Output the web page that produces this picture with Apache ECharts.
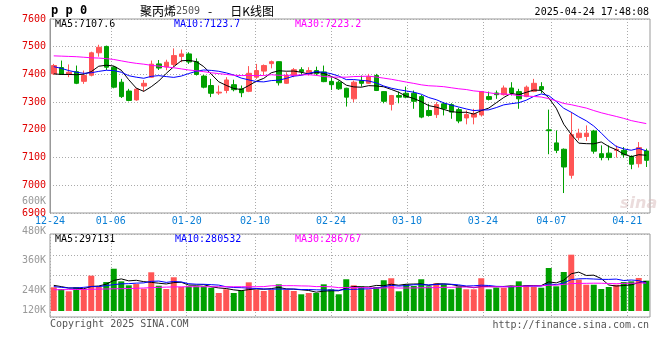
<!DOCTYPE html>
<html><head><meta charset="utf-8">
<script src="https://cdn.jsdelivr.net/npm/echarts@6/dist/echarts.min.js"></script>
<style>html,body{margin:0;padding:0;background:#fff}#c{width:660px;height:360px}</style>
</head><body><div id="c"></div>
<script>
// ---- data ----
const dates = ['12-24','12-25','12-26','12-27','12-30','12-31',
'01-02','01-03','01-06','01-07','01-08','01-09','01-10','01-13','01-14','01-15','01-16','01-17','01-20','01-21','01-22','01-23','01-24','01-27',
'02-05','02-06','02-07','02-10','02-11','02-12','02-13','02-14','02-17','02-18','02-19','02-20','02-21','02-24','02-25','02-26','02-27','02-28',
'03-03','03-04','03-05','03-06','03-07','03-10','03-11','03-12','03-13','03-14','03-17','03-18','03-19','03-20','03-21','03-24','03-25','03-26','03-27','03-28','03-31',
'04-01','04-02','04-03','04-07','04-08','04-09','04-10','04-11','04-14','04-15','04-16','04-17','04-18','04-21','04-22','04-23','04-24'];
const opens = [7402,7425,7400,7410,7375,7397,7478,7501,7426,7372,7340,7308,7358,7390,7438,7427,7436,7465,7474,7446,
7394,7360,7333,7342,7363,7348,7339,7390,7412,7439,7446,7368,7397,7417,7406,7414,7409,7375,7372,7350,
7312,7378,7368,7396,7338,7292,7324,7332,7332,7320,7270,7255,7294,7291,7273,7243,7246,7254,7320,7333,
7327,7351,7338,7320,7339,7356,7200,7153,7130,7036,7172,7176,7196,7114,7116,7126,7126,7104,7078,7124];
const closes = [7432,7400,7408,7368,7396,7478,7498,7426,7354,7320,7306,7347,7368,7437,7423,7444,7468,7474,7445,7400,
7354,7332,7336,7380,7345,7334,7404,7414,7432,7446,7370,7396,7417,7410,7414,7403,7374,7363,7348,7318,
7372,7368,7392,7342,7303,7324,7318,7318,7303,7246,7252,7291,7276,7264,7232,7255,7258,7338,7310,7327,
7351,7333,7312,7354,7368,7345,7197,7126,7066,7183,7188,7188,7123,7100,7100,7130,7110,7076,7136,7090];
const lows = [7398,7398,7390,7365,7366,7393,7464,7416,7350,7315,7303,7305,7338,7388,7416,7415,7428,7444,7438,7396,
7350,7318,7326,7332,7339,7318,7336,7384,7397,7422,7360,7366,7390,7398,7396,7396,7372,7344,7344,7284,
7300,7356,7366,7340,7296,7270,7296,7314,7276,7242,7248,7243,7252,7240,7224,7220,7220,7248,7306,7312,
7324,7324,7276,7318,7336,7332,7112,7116,6972,7024,7162,7160,7114,7090,7090,7100,7100,7058,7064,7066];
const highs = [7438,7450,7436,7432,7414,7482,7507,7504,7430,7384,7348,7350,7380,7450,7452,7453,7494,7490,7480,7458,
7398,7384,7360,7390,7381,7360,7430,7438,7436,7450,7447,7408,7423,7426,7426,7428,7432,7390,7378,7352,
7378,7396,7402,7402,7340,7326,7338,7356,7342,7326,7294,7300,7300,7296,7280,7270,7276,7340,7338,7342,
7360,7372,7348,7360,7384,7372,7273,7198,7133,7264,7204,7216,7200,7144,7144,7144,7138,7108,7156,7132];
const volumes = [238000,221000,198000,238000,221000,355000,244000,291000,425000,298000,258000,271000,224000,389000,254000,221000,339000,241000,248000,248000,
248000,234000,181000,218000,181000,208000,288000,214000,201000,214000,268000,214000,201000,168000,181000,181000,268000,218000,168000,319000,
258000,248000,218000,241000,309000,329000,198000,268000,251000,319000,248000,278000,268000,218000,248000,218000,218000,329000,218000,234000,
234000,248000,298000,258000,241000,234000,432000,248000,392000,566000,315000,264000,264000,221000,241000,264000,291000,298000,332000,305000];
// moving-average values before enough history exists
const ma5Head = [7402,7400,7400,7399];
const ma10Head = [7428,7422,7414,7408,7404,7406,7411,7415,7414];
const ma30Head = [7467,7466,7465,7464,7462,7460,7459,7457,7454,7449,7444,7440,7437,7433,7430,7427,7424,7420,7416,7413,7410,7406,7403,7400,7397,7396,7396,7396,7396];
const volMa5Head = [258000,245000,231000,231000];
const volMa10Head = [245000,238000,231000,231000,238000,245000,245000,255000,265000];
const volMa30Head = [214000,214000,215000,216000,217000,218000,220000,221000,223000,224000,226000,228000,231000,235000,238000,240000,242000,243000,244000,244000,244000,244000,244000,244000,244000,244000,244000,244000,245000];
const xTickDates = ['12-24','01-06','01-20','02-10','02-24','03-10','03-24','04-07','04-21'];
const volTickLabels = ['600K','480K','360K','240K','120K'];
const priceLegend = ['MA5:7107.6','MA10:7123.7','MA30:7223.2'];
const volLegend = ['MA5:297131','MA10:280532','MA30:286767'];
const titleName = '聚丙烯', titleCode = '2509', titleDash = '-', titleTail = '日K线图', symbolText = 'p p 0';
const stamp = '2025-04-24 17:48:08';

// ---- helpers ----
function movingAvg(vals, n, head){
  return vals.map((v,i)=>{
    if(i < n-1) return head[i];
    let s=0; for(let k=i-n+1;k<=i;k++) s+=vals[k];
    return +(s/n).toFixed(2);
  });
}
const UP='#ff5555', DOWN='#00a000';
const MONO='"DejaVu Sans Mono", monospace';
const tickIdx = xTickDates.map(d=>dates.indexOf(d));
const volTickOffsets = [109,79,50,20,0];
const dotted = {show:true, lineStyle:{color:'#aaa', type:[1,2], width:1}};

const chart = echarts.init(document.getElementById('c'), null, {renderer:'canvas'});
const candleData = dates.map((d,i)=>[opens[i],closes[i],lows[i],highs[i]]);
const volData = volumes.map((v,i)=>({value:v, itemStyle:{color: closes[i]>=opens[i]?UP:DOWN}}));
function lineS(data, color, xi, yi){
  return {type:'line', data, xAxisIndex:xi, yAxisIndex:yi, showSymbol:false, symbol:'none',
    lineStyle:{color, width:1}, itemStyle:{color}, silent:true, z:5};
}
function txt(text, x, y, fill, align, font){
  return {type:'text', x, y, silent:true, style:{text, fill, font: font||('10px '+MONO),
    align: align||'left', verticalAlign:'middle', textAlign: align||'left', textVerticalAlign:'middle'}};
}

const option = {
  animation:false,
  backgroundColor:'#fff',
  grid:[
    {left:50, top:19, width:600, height:194, show:true, borderColor:'#999', borderWidth:1},
    {left:50, top:234, width:600, height:83, show:true, borderColor:'#999', borderWidth:1},
    {left:50, top:201, width:600, height:109, show:false}
  ],
  xAxis:[
    {type:'category', gridIndex:0, data:dates, boundaryGap:true, show:false},
    {type:'value', gridIndex:0, min:0, max:dates.length-1, position:'bottom',
      axisLine:{show:false}, axisTick:{show:false, customValues:tickIdx},
      axisLabel:{customValues:tickIdx, formatter:v=>dates[Math.round(v)], color:'#0a7fd6', fontFamily:MONO, fontSize:10, margin:3},
      splitLine:dotted},
    {type:'category', gridIndex:1, data:dates, boundaryGap:true, show:false},
    {type:'value', gridIndex:1, min:0, max:dates.length-1,
      axisLine:{show:false}, axisTick:{show:false, customValues:tickIdx}, axisLabel:{show:false, customValues:tickIdx},
      splitLine:dotted},
    {type:'value', gridIndex:2, min:0, max:1, show:false}
  ],
  yAxis:[
    {type:'value', gridIndex:0, min:6900, max:7600, interval:100,
      axisLine:{show:true, lineStyle:{color:'#999'}}, axisTick:{show:false},
      axisLabel:{color:'#e00000', fontFamily:MONO, fontSize:10, margin:4, formatter:v=>String(v)},
      splitLine:dotted},
    {type:'value', gridIndex:1, min:-60300, max:773850, show:false, splitLine:{show:false}},
    {type:'value', gridIndex:1, min:0, max:4, interval:1, position:'left',
      axisLine:{show:false}, axisTick:{show:false}, axisLabel:{show:false}, splitLine:dotted},
    {type:'value', gridIndex:2, min:0, max:109, position:'left',
      axisLine:{show:false}, axisTick:{show:false, customValues:volTickOffsets}, splitLine:{show:false},
      axisLabel:{customValues:volTickOffsets, formatter:v=>volTickLabels[volTickOffsets.indexOf(v)],
        color:'#999', fontFamily:MONO, fontSize:10, margin:4}}
  ],
  series:[
    {type:'candlestick', xAxisIndex:0, yAxisIndex:0, data:candleData, barWidth:5,
      itemStyle:{color:UP, color0:DOWN, borderColor:UP, borderColor0:DOWN, borderWidth:1}, silent:true, z:3},
    lineS(movingAvg(closes,5,ma5Head), '#000000', 0, 0),
    lineS(movingAvg(closes,10,ma10Head), '#0000ff', 0, 0),
    lineS(movingAvg(closes,30,ma30Head), '#ff00ff', 0, 0),
    {type:'bar', xAxisIndex:2, yAxisIndex:1, data:volData, barWidth:6, silent:true, z:3},
    lineS(movingAvg(volumes,5,volMa5Head), '#000000', 2, 1),
    lineS(movingAvg(volumes,10,volMa10Head), '#0000ff', 2, 1),
    lineS(movingAvg(volumes,30,volMa30Head), '#ff00ff', 2, 1)
  ],
  graphic:[
    txt(symbolText, 51, 11, '#000', 'left', 'bold 12px '+MONO),
    {type:'text', x:140, y:11, silent:true, style:{
      text:'{a|'+titleName+'}{b|'+titleCode+'}{c|'+titleDash+'}{a|'+titleTail+'}', verticalAlign:'middle', textVerticalAlign:'middle',
      rich:{a:{fontSize:12, fontFamily:'"Noto Sans CJK SC", sans-serif', fill:'#000', color:'#000'},
            b:{fontSize:10, fontFamily:MONO, fill:'#555', color:'#555'},
            c:{fontSize:12, fontFamily:'"Noto Sans CJK SC", sans-serif', fill:'#000', color:'#000', padding:[0,18,0,8]}}}},
    txt(stamp, 649, 12, '#000', 'right'),
    txt(priceLegend[0], 55, 24, '#000'),
    txt(priceLegend[1], 174, 24, '#0000ff'),
    txt(priceLegend[2], 295, 24, '#ff00ff'),
    txt(volLegend[0], 55, 239, '#000'),
    txt(volLegend[1], 175, 239, '#0000ff'),
    txt(volLegend[2], 295, 239, '#ff00ff'),
    txt('Copyright 2025 SINA.COM', 50, 324, '#555'),
    txt('http://finance.sina.com.cn', 649, 325, '#555', 'right'),
    txt('sina', 620, 204, 'rgba(215,185,185,0.5)', 'left', 'italic bold 16px "DejaVu Sans", sans-serif')
  ]
};
chart.setOption(option);
</script></body></html>
